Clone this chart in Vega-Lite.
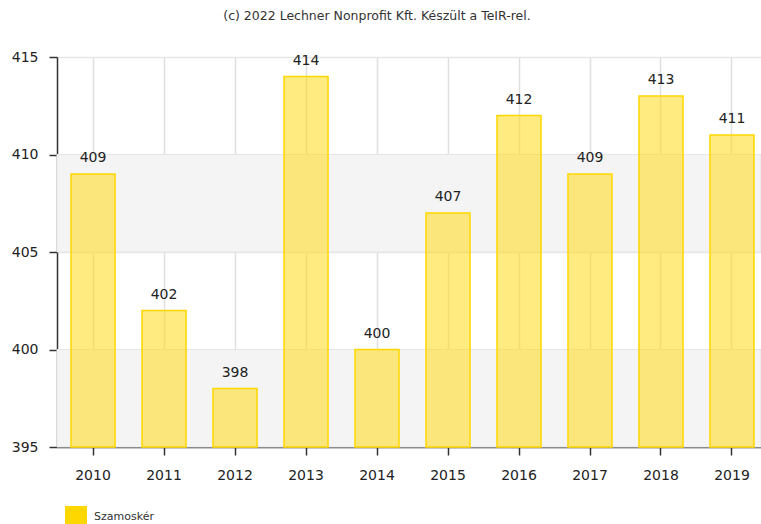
{
  "$schema": "https://vega.github.io/schema/vega-lite/v6.json",
  "autosize": "none",
  "width": 704,
  "height": 390,
  "padding": {"left": 57, "top": 57, "right": 0, "bottom": 77},
  "background": "white",
  "config": {
    "view": {"stroke": null},
    "font": "DejaVu Sans"
  },
  "title": {
    "text": "(c) 2022 Lechner Nonprofit Kft. Készült a TeIR-rel.",
    "fontSize": 12.5,
    "fontWeight": "normal",
    "color": "#333",
    "anchor": "middle",
    "frame": "group",
    "dx": -32,
    "offset": 28
  },
  "datasets": {
    "vals": [
      {"year": "2010", "value": 409, "series": "Szamoskér"},
      {"year": "2011", "value": 402, "series": "Szamoskér"},
      {"year": "2012", "value": 398, "series": "Szamoskér"},
      {"year": "2013", "value": 414, "series": "Szamoskér"},
      {"year": "2014", "value": 400, "series": "Szamoskér"},
      {"year": "2015", "value": 407, "series": "Szamoskér"},
      {"year": "2016", "value": 412, "series": "Szamoskér"},
      {"year": "2017", "value": 409, "series": "Szamoskér"},
      {"year": "2018", "value": 413, "series": "Szamoskér"},
      {"year": "2019", "value": 411, "series": "Szamoskér"}
    ],
    "bands": [
      {"lo": 395, "hi": 400},
      {"lo": 405, "hi": 410}
    ]
  },
  "layer": [
    {
      "data": {"name": "bands"},
      "mark": {"type": "rect", "fill": "#f4f4f4", "stroke": "#e6e6e6", "strokeWidth": 1},
      "encoding": {
        "y": {"field": "lo", "type": "quantitative", "scale": {"domain": [395, 415], "nice": false, "zero": false}},
        "y2": {"field": "hi"}
      }
    },
    {
      "data": {"name": "vals"},
      "mark": {"type": "bar", "fillOpacity": 0.5, "stroke": "#FFD700", "strokeWidth": 1.5},
      "encoding": {
        "x": {
          "field": "year", "type": "nominal",
          "scale": {"paddingInner": 0.38, "paddingOuter": 0.148, "align": 0.667},
          "axis": {
            "title": null, "labelAngle": 0, "labelFontSize": 14, "labelColor": "#222",
            "labelPadding": 13, "tickSize": 8, "tickColor": "#333", "tickWidth": 1.5,
            "domainColor": "#333", "domainWidth": 1.5,
            "grid": true, "gridColor": "#e0e0e0", "gridWidth": 1.5
          }
        },
        "y": {
          "field": "value", "type": "quantitative",
          "scale": {"domain": [395, 415], "nice": false, "zero": false},
          "axis": {
            "title": null, "values": [395, 400, 405, 410, 415], "labelFontSize": 14, "labelColor": "#222",
            "labelPadding": 11, "tickSize": 8, "tickColor": "#333", "tickWidth": 1.5,
            "domainColor": "#333", "domainWidth": 1.5,
            "grid": true, "gridColor": "#e6e6e6", "gridWidth": 1.5
          }
        },
        "y2": {"datum": 395},
        "color": {
          "field": "series", "type": "nominal",
          "scale": {"range": ["#FFD700"]},
          "legend": {
            "title": null, "orient": "none", "legendX": 8, "legendY": 449,
            "symbolType": "square", "symbolSize": 484, "symbolOpacity": 1, "symbolStrokeWidth": 0,
            "labelFontSize": 11, "labelColor": "#333", "labelOffset": 7, "padding": 0
          }
        }
      }
    },
    {
      "data": {"name": "vals"},
      "mark": {"type": "text", "dy": -9, "fontSize": 14, "color": "#222", "baseline": "bottom"},
      "encoding": {
        "x": {"field": "year", "type": "nominal"},
        "y": {"field": "value", "type": "quantitative"},
        "text": {"field": "value", "type": "quantitative"}
      }
    }
  ]
}
